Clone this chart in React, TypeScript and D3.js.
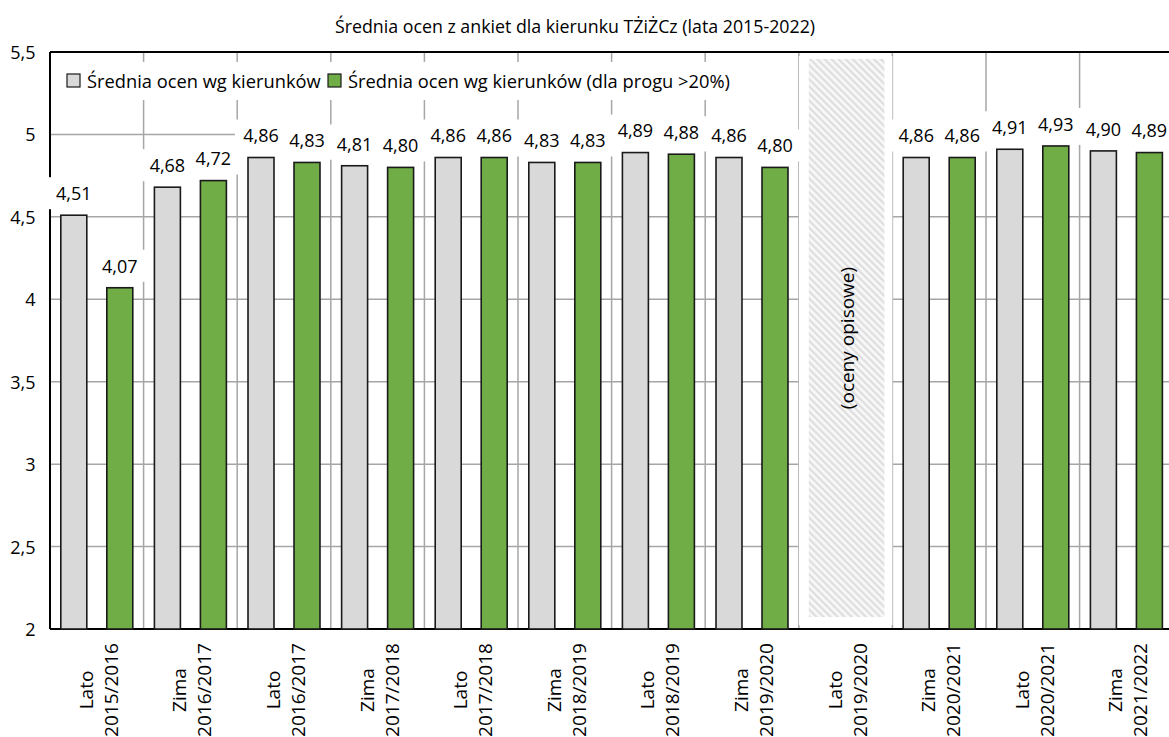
import React from "react";
import * as d3 from "d3";

const seasons = ["Lato", "Zima", "Lato", "Zima", "Lato", "Zima", "Lato", "Zima", "Lato", "Zima", "Lato", "Zima"];
const years = ["2015/2016", "2016/2017", "2016/2017", "2017/2018", "2017/2018", "2018/2019", "2018/2019", "2019/2020", "2019/2020", "2020/2021", "2020/2021", "2021/2022"];
const seriesAll: (number | null)[] = [4.51, 4.68, 4.86, 4.81, 4.86, 4.83, 4.89, 4.86, null, 4.86, 4.91, 4.90];
const seriesThreshold: (number | null)[] = [4.07, 4.72, 4.83, 4.80, 4.86, 4.83, 4.88, 4.80, null, 4.86, 4.93, 4.89];
const seriesNames = ["Średnia ocen wg kierunków", "Średnia ocen wg kierunków (dla progu >20%)"];
const seriesColors = ["#d9d9d9", "#70ad47"];
const yTicks = [2, 2.5, 3, 3.5, 4, 4.5, 5, 5.5];
const missingIndex = 8;
const missingNote = "(oceny opisowe)";
const title = "Średnia ocen z ankiet dla kierunku TŻiŻCz (lata 2015-2022)";

const W = 1169;
const H = 737;
const FONT = "'Open Sans', 'Noto Sans', sans-serif";

export default function App() {
  const left = 50;
  const top = 52;
  const bottom = 629;
  const step = 93.6;
  const idx = seasons.map((_, i) => String(i));
  const x = d3.scaleBand<string>().domain(idx).range([left, left + step * idx.length]).paddingInner(0).paddingOuter(0);
  const xs = d3.scaleBand<string>().domain(["0", "1"]).range([0, x.bandwidth()]).paddingInner(0.435).paddingOuter(0.235);
  const y = d3.scaleLinear().domain([2, 5.5]).range([bottom, top]);
  const fmtTick = (v: number) => String(v).replace(".", ",");
  const fmtVal = (v: number) => d3.format(".2f")(v).replace(".", ",");
  const series = [seriesAll, seriesThreshold];
  const right = x.range()[1];

  const mx0 = (x(String(missingIndex)) as number) + 10;
  const mx1 = (x(String(missingIndex)) as number) + x.bandwidth() - 8;

  return (
    <svg width={W} height={H} style={{ position: "absolute", left: 0, top: 0, background: "#fff" }} fontFamily={FONT}>
      <defs>
        <pattern id="hatch" width="5" height="5" patternUnits="userSpaceOnUse" patternTransform="rotate(-45)">
          <rect width="5" height="5" fill="#f8f8f8" />
          <rect x="0" y="0" width="2.2" height="5" fill="#dedede" />
        </pattern>
      </defs>
      <rect width={W} height={H} fill="#fff" />
      <text x={575} y={33} textAnchor="middle" fontSize={17.8} fill="#000">{title}</text>

      {/* horizontal gridlines */}
      {yTicks.map((t) => (
        <line key={"h" + t} x1={left} x2={right} y1={y(t)} y2={y(t)} stroke="#a6a6a6" strokeWidth={1.5} />
      ))}
      {/* vertical gridlines */}
      {idx.map((k) => (
        <line key={"v" + k} x1={x(k) as number} x2={x(k) as number} y1={top} y2={bottom} stroke="#a6a6a6" strokeWidth={1.5} />
      ))}

      {/* missing data area */}
      <rect x={mx0 - 10} y={top + 4} width={mx1 - mx0 + 18} height={bottom - top - 8} fill="#fff" />
      <rect x={mx0} y={59} width={mx1 - mx0} height={617 - 59} fill="url(#hatch)" />
      <text
        transform={`translate(${(mx0 + mx1) / 2 + 7},${338}) rotate(-90)`}
        textAnchor="middle"
        fontSize={19}
        fill="#000"
      >
        {missingNote}
      </text>

      {/* axes */}
      <line x1={left} x2={left} y1={top} y2={bottom} stroke="#000" strokeWidth={2} />
      <line x1={left} x2={right} y1={bottom} y2={bottom} stroke="#000" strokeWidth={2} />
      <line x1={left} x2={right} y1={top} y2={top} stroke="#000" strokeWidth={2} />

      {/* bars */}
      {series.map((s, si) =>
        s.map((v, i) =>
          v == null ? null : (
            <rect
              key={`b${si}-${i}`}
              x={(x(String(i)) as number) + (xs(String(si)) as number)}
              y={y(v)}
              width={xs.bandwidth()}
              height={bottom - y(v)}
              fill={seriesColors[si]}
              stroke="#1a1a1a"
              strokeWidth={1.6}
            />
          )
        )
      )}

      {/* value labels */}
      {series.map((s, si) =>
        s.map((v, i) => {
          if (v == null) return null;
          const cx = (x(String(i)) as number) + (xs(String(si)) as number) + xs.bandwidth() / 2;
          const cy = y(v) - 22;
          return (
            <g key={`l${si}-${i}`}>
              <rect x={cx - 26} y={cy - 16} width={52} height={32} fill="#fff" />
              <text x={cx} y={cy + 6.8} textAnchor="middle" fontSize={18} fill="#000">
                {fmtVal(v)}
              </text>
            </g>
          );
        })
      )}

      {/* legend */}
      <rect x={57} y={62} width={684} height={38} fill="#fff" />
      {seriesNames.map((n, i) => {
        const lx = i === 0 ? 67 : 328;
        return (
          <g key={"lg" + i}>
            <rect x={lx} y={74} width={13} height={13} fill={seriesColors[i]} stroke="#1a1a1a" strokeWidth={1.2} />
            <text x={lx + 20} y={87.5} fontSize={18.3} fill="#000">{n}</text>
          </g>
        );
      })}

      {/* y ticks */}
      {yTicks.map((t) => (
        <text key={"yt" + t} x={35.5} y={y(t) + 7} textAnchor="end" fontSize={18} fill="#000">
          {fmtTick(t)}
        </text>
      ))}

      {/* x labels */}
      {idx.map((k, i) => {
        const cx = (x(k) as number) + x.bandwidth() / 2;
        return (
          <text key={"xl" + k} transform={`translate(${cx},${690}) rotate(-90)`} textAnchor="middle" fontSize={19} fill="#000">
            <tspan x={0} y={-4}>{seasons[i]}</tspan>
            <tspan x={0} y={21}>{years[i]}</tspan>
          </text>
        );
      })}
    </svg>
  );
}
